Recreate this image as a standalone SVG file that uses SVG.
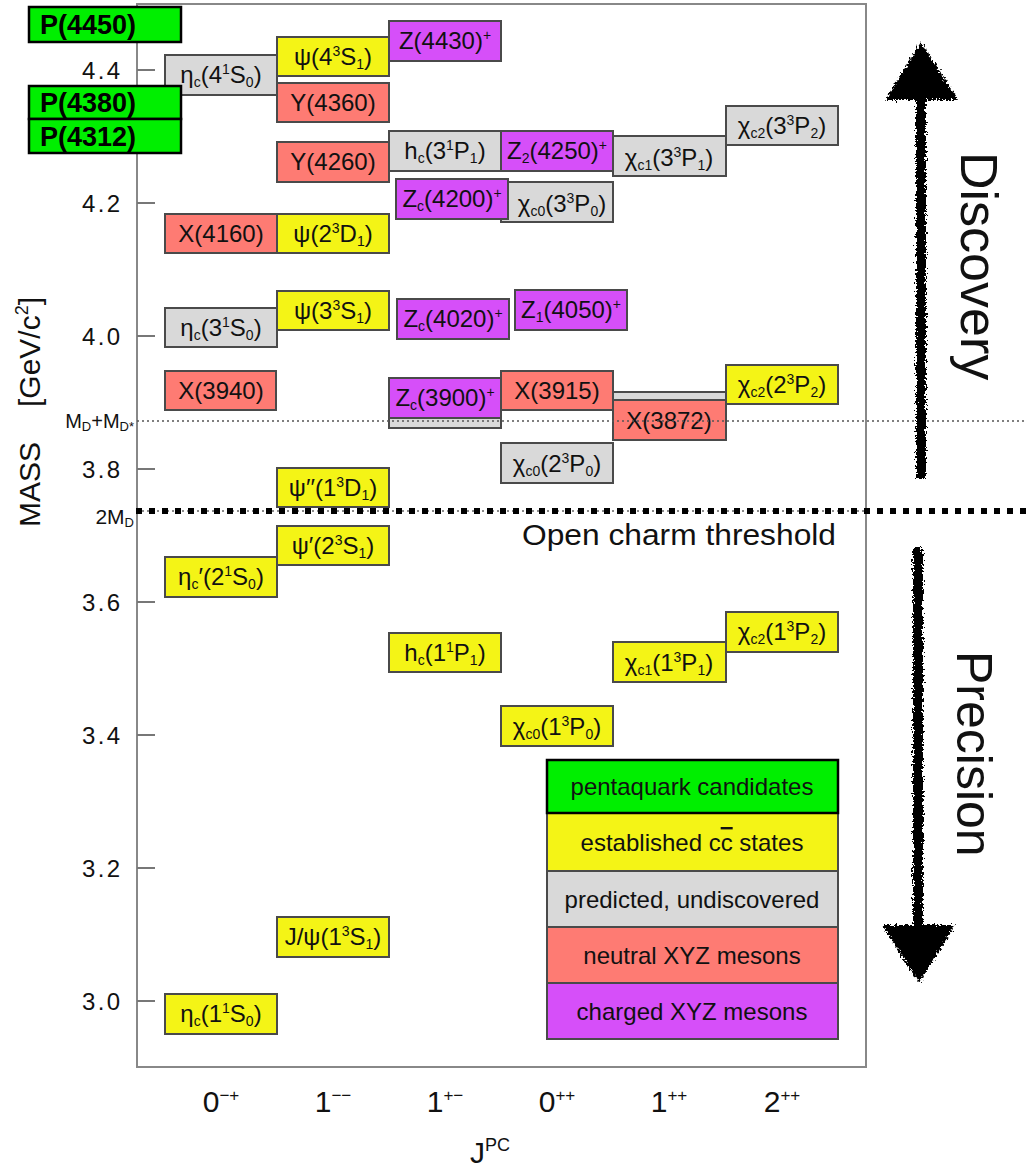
<svg xmlns="http://www.w3.org/2000/svg" width="1027" height="1168" viewBox="0 0 1027 1168">
<style>
text{font-family:"Liberation Sans",Arial,sans-serif;fill:#111}
.bx{stroke:#4a4a4a;stroke-width:2}
.g{fill:#00ef00;stroke:#000;stroke-width:2.5}
.y{fill:#f4f416}
.gr{fill:#d9d9d9}
.r{fill:#fe7b73}
.p{fill:#d64ff9}
.lb{font-size:24px;text-anchor:middle}
.pq{font-size:27px;font-weight:bold;fill:#000}
.sub{font-size:14px;baseline-shift:-4px}
.sup{font-size:14px;baseline-shift:9px}
.tick{stroke:#777;stroke-width:2}
.tl{font-size:24px;text-anchor:end}
.xl{font-size:30px;text-anchor:middle}
.xs{font-size:17px;baseline-shift:11px}
.leg{font-size:24px;text-anchor:middle}
</style>
<defs>
<filter id="rough" x="-30%" y="-5%" width="160%" height="110%">
<feTurbulence type="fractalNoise" baseFrequency="0.45" numOctaves="3" seed="4"/>
<feDisplacementMap in="SourceGraphic" scale="8" xChannelSelector="R" yChannelSelector="G"/>
</filter>
</defs>
<rect width="1027" height="1168" fill="#fff"/>

<g id="frame">
<rect x="137" y="4" width="729" height="1063" fill="none" stroke="#888" stroke-width="2"/>
<line class="tick" x1="137" y1="70" x2="155" y2="70"/>
<line class="tick" x1="137" y1="203" x2="155" y2="203"/>
<line class="tick" x1="137" y1="336" x2="155" y2="336"/>
<line class="tick" x1="137" y1="469" x2="155" y2="469"/>
<line class="tick" x1="137" y1="602" x2="155" y2="602"/>
<line class="tick" x1="137" y1="735" x2="155" y2="735"/>
<line class="tick" x1="137" y1="868" x2="155" y2="868"/>
<line class="tick" x1="137" y1="1001" x2="155" y2="1001"/>
<text class="tl" x="120" y="79" textLength="38">4.4</text>
<text class="tl" x="120" y="212" textLength="38">4.2</text>
<text class="tl" x="120" y="345" textLength="38">4.0</text>
<text class="tl" x="120" y="478" textLength="38">3.8</text>
<text class="tl" x="120" y="611" textLength="38">3.6</text>
<text class="tl" x="120" y="744" textLength="38">3.4</text>
<text class="tl" x="120" y="877" textLength="38">3.2</text>
<text class="tl" x="120" y="1010" textLength="38">3.0</text>
<text font-size="30" transform="translate(40,527) rotate(-90)">MASS</text>
<text font-size="30" transform="translate(40,407) rotate(-90)">[GeV/c<tspan font-size="18" baseline-shift="12">2</tspan>]</text>
<text class="xl" x="221" y="1112">0<tspan class="xs">−+</tspan></text>
<text class="xl" x="333" y="1112">1<tspan class="xs">−−</tspan></text>
<text class="xl" x="445" y="1112">1<tspan class="xs">+−</tspan></text>
<text class="xl" x="557" y="1112">0<tspan class="xs">++</tspan></text>
<text class="xl" x="669" y="1112">1<tspan class="xs">++</tspan></text>
<text class="xl" x="782" y="1112">2<tspan class="xs">++</tspan></text>
<text font-size="30" x="470" y="1163">J<tspan font-size="18" baseline-shift="12">PC</tspan></text>
</g>

<g id="eta_c_4S"><rect class="bx gr" x="165" y="55" width="112" height="40"/><text class="lb" x="221" y="83">η<tspan class="sub">c</tspan>(4<tspan class="sup">1</tspan>S<tspan class="sub">0</tspan>)</text></g>
<g id="psi_4S"><rect class="bx y" x="277" y="37" width="112" height="39"/><text class="lb" x="333" y="65">ψ(4<tspan class="sup">3</tspan>S<tspan class="sub">1</tspan>)</text></g>
<g id="Z4430"><rect class="bx p" x="389" y="21" width="112" height="40"/><text class="lb" x="445" y="49">Z(4430)<tspan class="sup">+</tspan></text></g>
<g id="Y4360"><rect class="bx r" x="277" y="83" width="112" height="39"/><text class="lb" x="333" y="111">Y(4360)</text></g>
<g id="Y4260"><rect class="bx r" x="277" y="142" width="112" height="40"/><text class="lb" x="333" y="170">Y(4260)</text></g>
<g id="hc_3P"><rect class="bx gr" x="389" y="131" width="112" height="40"/><text class="lb" x="445" y="159">h<tspan class="sub">c</tspan>(3<tspan class="sup">1</tspan>P<tspan class="sub">1</tspan>)</text></g>
<g id="Z2_4250"><rect class="bx p" x="501" y="131" width="112" height="40"/><text class="lb" x="557" y="159">Z<tspan class="sub">2</tspan>(4250)<tspan class="sup">+</tspan></text></g>
<g id="chic1_3P"><rect class="bx gr" x="613" y="136" width="113" height="40"/><text class="lb" x="669" y="166">χ<tspan class="sub">c1</tspan>(3<tspan class="sup">3</tspan>P<tspan class="sub">1</tspan>)</text></g>
<g id="chic2_3P"><rect class="bx gr" x="726" y="106" width="112" height="39"/><text class="lb" x="782" y="134">χ<tspan class="sub">c2</tspan>(3<tspan class="sup">3</tspan>P<tspan class="sub">2</tspan>)</text></g>
<g id="chic0_3P"><rect class="bx gr" x="501" y="182" width="112" height="40"/><text class="lb" x="562" y="212">χ<tspan class="sub">c0</tspan>(3<tspan class="sup">3</tspan>P<tspan class="sub">0</tspan>)</text></g>
<g id="Zc4200"><rect class="bx p" x="396" y="179" width="112" height="40"/><text class="lb" x="452" y="207">Z<tspan class="sub">c</tspan>(4200)<tspan class="sup">+</tspan></text></g>
<g id="X4160"><rect class="bx r" x="165" y="214" width="112" height="39"/><text class="lb" x="221" y="242">X(4160)</text></g>
<g id="psi_2D"><rect class="bx y" x="277" y="214" width="112" height="39"/><text class="lb" x="333" y="242">ψ(2<tspan class="sup">3</tspan>D<tspan class="sub">1</tspan>)</text></g>
<g id="eta_c_3S"><rect class="bx gr" x="165" y="308" width="112" height="39"/><text class="lb" x="221" y="336">η<tspan class="sub">c</tspan>(3<tspan class="sup">1</tspan>S<tspan class="sub">0</tspan>)</text></g>
<g id="psi_3S"><rect class="bx y" x="277" y="291" width="112" height="39"/><text class="lb" x="333" y="319">ψ(3<tspan class="sup">3</tspan>S<tspan class="sub">1</tspan>)</text></g>
<g id="Zc4020"><rect class="bx p" x="397" y="299" width="112" height="40"/><text class="lb" x="453" y="327">Z<tspan class="sub">c</tspan>(4020)<tspan class="sup">+</tspan></text></g>
<g id="Z1_4050"><rect class="bx p" x="515" y="290" width="112" height="40"/><text class="lb" x="571" y="318">Z<tspan class="sub">1</tspan>(4050)<tspan class="sup">+</tspan></text></g>
<g id="X3940"><rect class="bx r" x="165" y="371" width="111" height="39"/><text class="lb" x="221" y="399">X(3940)</text></g>
<g id="hc_2P_hidden"><rect class="bx gr" x="389" y="388" width="112" height="40"/></g>
<g id="Zc3900"><rect class="bx p" x="389" y="378" width="112" height="40"/><text class="lb" x="445" y="406">Z<tspan class="sub">c</tspan>(3900)<tspan class="sup">+</tspan></text></g>
<g id="X3915"><rect class="bx r" x="501" y="371" width="112" height="39"/><text class="lb" x="557" y="399">X(3915)</text></g>
<g id="chic1_2P_hidden"><rect class="bx gr" x="613" y="392" width="113" height="40"/></g>
<g id="X3872"><rect class="bx r" x="613" y="400" width="113" height="40"/><text class="lb" x="669" y="429">X(3872)</text></g>
<g id="chic2_2P"><rect class="bx y" x="726" y="365" width="112" height="39"/><text class="lb" x="782" y="393">χ<tspan class="sub">c2</tspan>(2<tspan class="sup">3</tspan>P<tspan class="sub">2</tspan>)</text></g>
<g id="chic0_2P"><rect class="bx gr" x="501" y="443" width="112" height="40"/><text class="lb" x="557" y="472">χ<tspan class="sub">c0</tspan>(2<tspan class="sup">3</tspan>P<tspan class="sub">0</tspan>)</text></g>
<g id="psi_1D"><rect class="bx y" x="277" y="468" width="112" height="39"/><text class="lb" x="333" y="496">ψ′′(1<tspan class="sup">3</tspan>D<tspan class="sub">1</tspan>)</text></g>
<g id="psi_2S"><rect class="bx y" x="277" y="526" width="112" height="39"/><text class="lb" x="333" y="554">ψ′(2<tspan class="sup">3</tspan>S<tspan class="sub">1</tspan>)</text></g>
<g id="eta_c_2S"><rect class="bx y" x="165" y="557" width="112" height="40"/><text class="lb" x="221" y="585">η<tspan class="sub">c</tspan>′(2<tspan class="sup">1</tspan>S<tspan class="sub">0</tspan>)</text></g>
<g id="hc_1P"><rect class="bx y" x="389" y="633" width="112" height="39"/><text class="lb" x="445" y="661">h<tspan class="sub">c</tspan>(1<tspan class="sup">1</tspan>P<tspan class="sub">1</tspan>)</text></g>
<g id="chic1_1P"><rect class="bx y" x="613" y="642" width="113" height="40"/><text class="lb" x="669" y="671">χ<tspan class="sub">c1</tspan>(1<tspan class="sup">3</tspan>P<tspan class="sub">1</tspan>)</text></g>
<g id="chic2_1P"><rect class="bx y" x="726" y="612" width="112" height="40"/><text class="lb" x="782" y="640">χ<tspan class="sub">c2</tspan>(1<tspan class="sup">3</tspan>P<tspan class="sub">2</tspan>)</text></g>
<g id="chic0_1P"><rect class="bx y" x="501" y="706" width="112" height="40"/><text class="lb" x="557" y="735">χ<tspan class="sub">c0</tspan>(1<tspan class="sup">3</tspan>P<tspan class="sub">0</tspan>)</text></g>
<g id="Jpsi"><rect class="bx y" x="277" y="917" width="112" height="40"/><text class="lb" x="333" y="945">J/ψ(1<tspan class="sup">3</tspan>S<tspan class="sub">1</tspan>)</text></g>
<g id="eta_c_1S"><rect class="bx y" x="165" y="994" width="112" height="40"/><text class="lb" x="221" y="1022">η<tspan class="sub">c</tspan>(1<tspan class="sup">1</tspan>S<tspan class="sub">0</tspan>)</text></g>

<g id="thresholds">
<line x1="137" y1="421" x2="1027" y2="421" stroke="#555" stroke-width="1.5" stroke-dasharray="2 3"/>
<text font-size="20" x="134" y="428" text-anchor="end">M<tspan font-size="13" baseline-shift="-3">D</tspan>+M<tspan font-size="13" baseline-shift="-3">D*</tspan></text>
<line x1="137" y1="511" x2="866" y2="511" stroke="#666" stroke-width="1.5" stroke-dasharray="2 3"/>
<line x1="136" y1="511" x2="1027" y2="511" stroke="#000" stroke-width="6" stroke-dasharray="6 7"/>
<text font-size="21" x="134" y="524" text-anchor="end">2M<tspan font-size="13" baseline-shift="-3">D</tspan></text>
<text font-size="30" x="522" y="545" textLength="314" lengthAdjust="spacingAndGlyphs">Open charm threshold</text>
</g>

<g id="P4450"><rect class="g" x="29" y="7" width="152" height="35"/><text class="pq" x="40" y="34">P(4450)</text></g>
<g id="P4380"><rect class="g" x="29" y="86" width="152" height="33"/><text class="pq" x="40" y="112">P(4380)</text></g>
<g id="P4312"><rect class="g" x="29" y="119" width="152" height="34"/><text class="pq" x="40" y="146">P(4312)</text></g>

<g id="legend">
<rect class="bx y" x="547" y="813" width="291" height="58"/>
<rect class="bx gr" x="547" y="871" width="291" height="56"/>
<rect class="bx r" x="547" y="927" width="291" height="56"/>
<rect class="bx p" x="547" y="983" width="291" height="56"/>
<rect class="g" x="547" y="760" width="291" height="53"/>
<text class="leg" x="692" y="795">pentaquark candidates</text>
<text class="leg" x="692" y="851">established c<tspan style="text-decoration:overline">c</tspan> states</text>
<text class="leg" x="692" y="908">predicted, undiscovered</text>
<text class="leg" x="692" y="964">neutral XYZ mesons</text>
<text class="leg" x="692" y="1020">charged XYZ mesons</text>
</g>

<g id="arrows" fill="#000" filter="url(#rough)">
<rect x="916" y="92" width="10" height="386"/>
<polygon points="921,42 958,100 885,100"/>
<rect x="913" y="548" width="10" height="382"/>
<polygon points="882,925 955,925 919,983"/>
</g>
<g id="arrow_labels">
<text font-size="52" transform="translate(961,152) rotate(90)">Discovery</text>
<text font-size="50" transform="translate(957,651) rotate(90)">Precision</text>
</g>
</svg>
